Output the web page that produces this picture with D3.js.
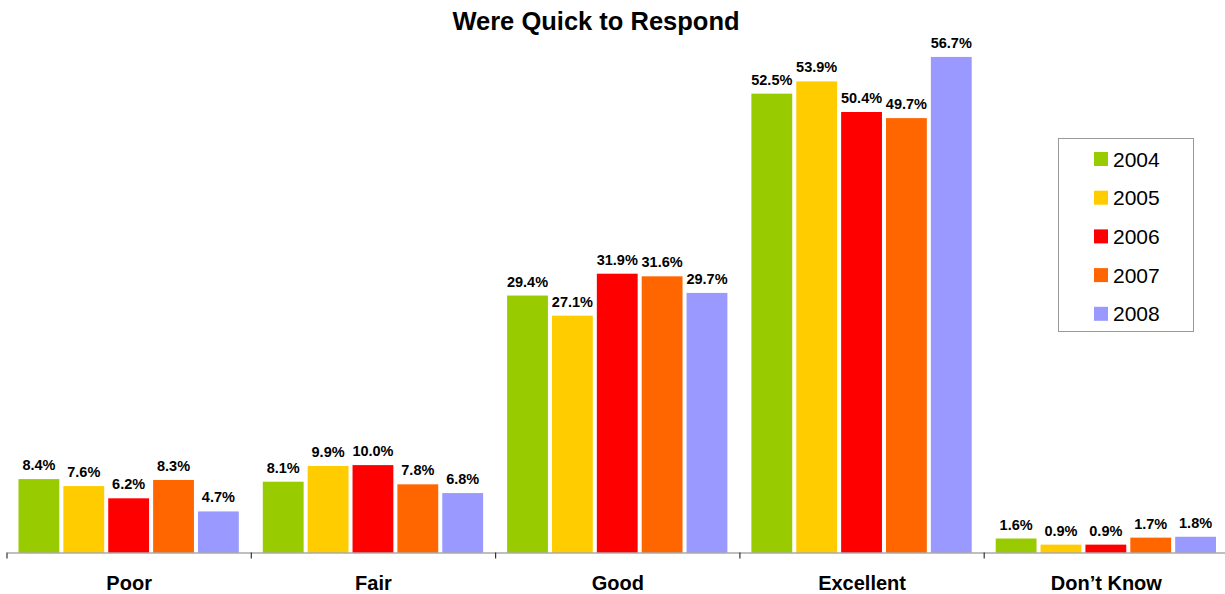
<!DOCTYPE html>
<html>
<head>
<meta charset="utf-8">
<script src="https://cdn.jsdelivr.net/npm/d3@7"></script>
<style>
  html, body { margin: 0; padding: 0; background: #fff; }
  svg { display: block; font-family: Arial, "Liberation Sans", sans-serif; }
</style>
</head>
<body>
<svg id="chart" width="1225" height="594"></svg>
<script>
// Survey answers to "Were Quick to Respond", percent by year
const categories = ["Poor", "Fair", "Good", "Excellent", "Don\u2019t Know"];
const years = ["2004", "2005", "2006", "2007", "2008"];
const values2004 = [8.4, 8.1, 29.4, 52.5, 1.6];
const values2005 = [7.6, 9.9, 27.1, 53.9, 0.9];
const values2006 = [6.2, 10.0, 31.9, 50.4, 0.9];
const values2007 = [8.3, 7.8, 31.6, 49.7, 1.7];
const values2008 = [4.7, 6.8, 29.7, 56.7, 1.8];
const colors = ["#99CC00", "#FFCC00", "#FF0000", "#FF6600", "#9999FF"];

const series = [values2004, values2005, values2006, values2007, values2008];

const svg = d3.select("#chart");
const baseY = 552.5;

const x0 = d3.scaleBand()
  .domain(categories)
  .range([7, 7 + 244.3 * 5])
  .paddingInner(0)
  .paddingOuter(0);

const x1 = d3.scaleBand()
  .domain(years)
  .range([11.5, 244.3 - 12.5])
  .paddingInner(0.09)
  .paddingOuter(0);

const y = d3.scaleLinear()
  .domain([0, 60])
  .range([baseY, baseY - 60 * 8.74]);

// Title
svg.append("text")
  .attr("x", 596)
  .attr("y", 30)
  .attr("text-anchor", "middle")
  .attr("font-size", 25.5)
  .attr("font-weight", "bold")
  .attr("fill", "#000")
  .text("Were Quick to Respond");

// Bars and value labels
const groups = svg.append("g").selectAll("g")
  .data(categories)
  .join("g")
  .attr("transform", c => `translate(${x0(c)},0)`);

groups.each(function(c, ci) {
  const g = d3.select(this);
  const rows = years.map((yr, si) => ({ yr, v: series[si][ci], color: colors[si] }));
  g.selectAll("rect")
    .data(rows)
    .join("rect")
    .attr("x", d => x1(d.yr))
    .attr("width", x1.bandwidth())
    .attr("y", d => y(d.v))
    .attr("height", d => baseY - y(d.v))
    .attr("fill", d => d.color);
  g.selectAll("text")
    .data(rows)
    .join("text")
    .attr("x", d => x1(d.yr) + x1.bandwidth() / 2)
    .attr("y", d => y(d.v) - 9)
    .attr("text-anchor", "middle")
    .attr("font-size", 14.5)
    .attr("font-weight", "bold")
    .attr("fill", "#000")
    .text(d => d.v.toFixed(1) + "%");
});

// Category axis
const axis = svg.append("g")
  .attr("transform", `translate(0,${baseY})`)
  .call(d3.axisBottom(x0).tickSize(0).tickFormat(""));
axis.select(".domain").attr("stroke", "#808080").attr("stroke-width", 1.2);

svg.append("g").selectAll("line")
  .data(categories.concat(["end"]))
  .join("line")
  .attr("x1", (c, i) => 7 + i * x0.step())
  .attr("x2", (c, i) => 7 + i * x0.step())
  .attr("y1", baseY)
  .attr("y2", baseY + 6)
  .attr("stroke", "#333")
  .attr("stroke-width", 1.2);

svg.append("g").selectAll("text")
  .data(categories)
  .join("text")
  .attr("x", c => x0(c) + x0.bandwidth() / 2)
  .attr("y", 590)
  .attr("text-anchor", "middle")
  .attr("font-size", 20)
  .attr("font-weight", "bold")
  .attr("fill", "#000")
  .text(c => c);

// Legend
const legend = svg.append("g");
legend.append("rect")
  .attr("x", 1058.5)
  .attr("y", 138.5)
  .attr("width", 135)
  .attr("height", 193)
  .attr("fill", "#fff")
  .attr("stroke", "#999")
  .attr("stroke-width", 1);

const items = legend.selectAll("g.item")
  .data(years)
  .join("g")
  .attr("class", "item")
  .attr("transform", (d, i) => `translate(1094,${159 + i * 38.7})`);
items.append("rect")
  .attr("x", 0)
  .attr("y", -7)
  .attr("width", 14)
  .attr("height", 14)
  .attr("fill", (d, i) => colors[i]);
items.append("text")
  .attr("x", 19)
  .attr("y", 7.5)
  .attr("font-size", 21)
  .attr("fill", "#000")
  .text(d => d);
</script>
</body>
</html>
